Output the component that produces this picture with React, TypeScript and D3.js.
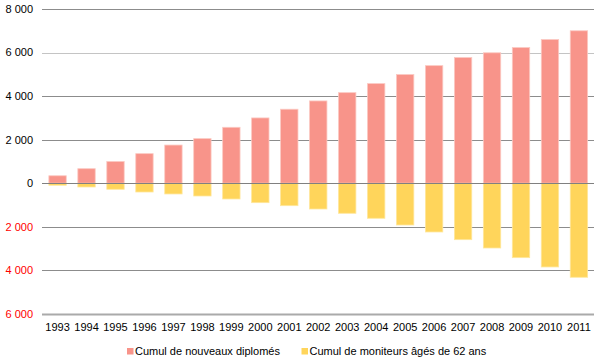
import React from "react";
import * as d3 from "d3";

const years = ["1993","1994","1995","1996","1997","1998","1999","2000","2001","2002","2003","2004","2005","2006","2007","2008","2009","2010","2011"];
const diplomes = [345, 670, 1000, 1360, 1755, 2050, 2570, 3000, 3400, 3780, 4160, 4575, 4990, 5400, 5770, 5990, 6230, 6600, 7000];
const moniteurs = [-90, -170, -275, -400, -490, -583, -720, -890, -1028, -1180, -1377, -1606, -1914, -2235, -2588, -2970, -3414, -3841, -4314];
const yTicks = [8000, 6000, 4000, 2000, 0, -2000, -4000, -6000];
const seriesNames = ["Cumul de nouveaux diplomés", "Cumul de moniteurs âgés de 62 ans"];

const W = 597, H = 360;
const PINK = "#F8948A";
const YELLOW = "#FFD55B";
const FONT = "'Liberation Sans', Arial, sans-serif";

export default function App() {
  const x = d3.scaleBand<string>().domain(years).range([42.5, 594]).paddingInner(0.4).paddingOuter(0.22);
  const y = d3.scaleLinear().domain([-6000, 8000]).range([314, 9]);
  const fmt = (v: number) => {
    const a = Math.abs(v);
    return d3.format(",")(a).replace(/,/g, " ");
  };
  const bw = x.bandwidth();
  return (
    <svg width={W} height={H} style={{ position: "absolute", left: 0, top: 0, background: "#fff" }} fontFamily={FONT}>
      {yTicks.map((t) => (
        <g key={t}>
          <line x1={42} x2={594} y1={Math.round(y(t)) + 0.5} y2={Math.round(y(t)) + 0.5}
            stroke={t === -6000 ? "#aaaaaa" : t === 6000 ? "#c4c4c4" : "#8c8c8c"} strokeWidth={t === -6000 ? 1.8 : 1} />
          <text x={33} y={y(t)} dy="0.35em" textAnchor="end" fontSize={11} fill={t < 0 ? "#ff0000" : "#000"}>{fmt(t)}</text>
        </g>
      ))}
      {years.map((yr, i) => (
        <g key={yr}>
          <rect x={x(yr)} width={bw} y={y(diplomes[i])} height={y(0) - y(diplomes[i])} fill={PINK} stroke="#fbc9c2" strokeWidth={0.8} />
          <rect x={x(yr)} width={bw} y={y(0)} height={y(moniteurs[i]) - y(0)} fill={YELLOW} stroke="#ffe79c" strokeWidth={0.8} />
          <text x={(x(yr) as number) + bw / 2} y={327.5} dy="0.35em" textAnchor="middle" fontSize={11} fill="#000">{yr}</text>
        </g>
      ))}
      <line x1={42} x2={594} y1={Math.round(y(0)) + 0.5} y2={Math.round(y(0)) + 0.5} stroke="#808080" strokeWidth={1} />
      <g>
        <rect x={127} y={348} width={6.5} height={6.5} fill={PINK} />
        <text x={135} y={351.5} dy="0.35em" fontSize={11} fill="#000">{seriesNames[0]}</text>
        <rect x={301.5} y={348} width={6.5} height={6.5} fill={YELLOW} />
        <text x={309.5} y={351.5} dy="0.35em" fontSize={11} fill="#000">{seriesNames[1]}</text>
      </g>
    </svg>
  );
}
